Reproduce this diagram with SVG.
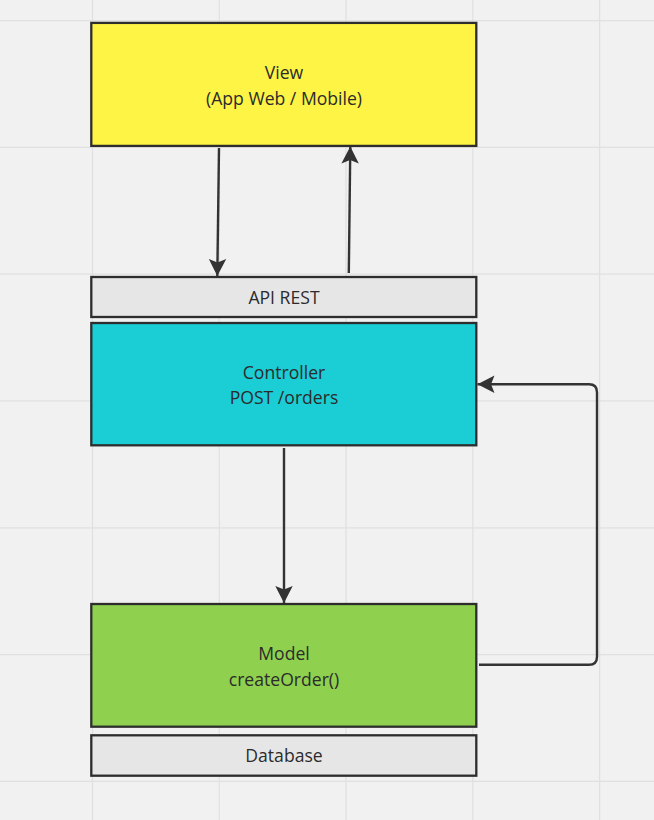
<svg xmlns="http://www.w3.org/2000/svg" width="654" height="820" viewBox="0 0 654 820">
<defs>
<style>
.bg{fill:#f1f1f1}
.grid line{stroke:#e0e0e0;stroke-width:1.2}
.node rect{stroke:#2d2d2d;stroke-width:2.3}
.node text{font-family:"Open Sans","Noto Sans","Liberation Sans",sans-serif;font-size:17.6px;fill:#2b2b2b;text-anchor:middle}
.conn path{fill:none;stroke:#333333;stroke-width:2.4}
</style>
<marker id="ah" markerUnits="userSpaceOnUse" viewBox="-18 -10 20 20" markerWidth="20" markerHeight="20" refX="0" refY="0" orient="auto">
<path d="M0,0 L-17,-8.7 L-13.5,0 L-17,8.7 Z" fill="#333333"/>
</marker>
</defs>
<rect class="bg" x="0" y="0" width="654" height="820"/>
<g class="grid">
<line x1="92.5" y1="0" x2="92.5" y2="820"/>
<line x1="219.3" y1="0" x2="219.3" y2="820"/>
<line x1="346" y1="0" x2="346" y2="820"/>
<line x1="472.8" y1="0" x2="472.8" y2="820"/>
<line x1="599.6" y1="0" x2="599.6" y2="820"/>
<line x1="0" y1="20.7" x2="654" y2="20.7"/>
<line x1="0" y1="147.4" x2="654" y2="147.4"/>
<line x1="0" y1="274.1" x2="654" y2="274.1"/>
<line x1="0" y1="400.8" x2="654" y2="400.8"/>
<line x1="0" y1="527.8" x2="654" y2="527.8"/>
<line x1="0" y1="654.6" x2="654" y2="654.6"/>
<line x1="0" y1="781.4" x2="654" y2="781.4"/>
</g>
<g id="view" class="node">
<rect x="91.3" y="22.9" width="385" height="123" fill="#fef445"/>
<text x="284" y="79">View</text>
<text x="284" y="104.5">(App Web / Mobile)</text>
</g>
<g id="api" class="node">
<rect x="91.3" y="277" width="385" height="40" fill="#e6e6e6"/>
<text x="284" y="304">API REST</text>
</g>
<g id="controller" class="node">
<rect x="91.3" y="323" width="385" height="122.3" fill="#1bcdd4"/>
<text x="284" y="379">Controller</text>
<text x="284" y="404.3">POST /orders</text>
</g>
<g id="model" class="node">
<rect x="91.3" y="604" width="385" height="122.7" fill="#8fd14f"/>
<text x="284" y="660">Model</text>
<text x="284" y="685.7">createOrder()</text>
</g>
<g id="database" class="node">
<rect x="91.3" y="735.3" width="385" height="40.4" fill="#e6e6e6"/>
<text x="284" y="762.3">Database</text>
</g>
<g id="connectors" class="conn">
<path d="M219,148 L217.3,276" marker-end="url(#ah)"/>
<path d="M348.8,273 L350.3,146.5" marker-end="url(#ah)"/>
<path d="M284,448 L284,603" marker-end="url(#ah)"/>
<path d="M479,664.8 L589,664.8 Q597,664.8 597,656.8 L597,392.3 Q597,384.3 589,384.3 L477.5,384.3" marker-end="url(#ah)"/>
</g>
</svg>
